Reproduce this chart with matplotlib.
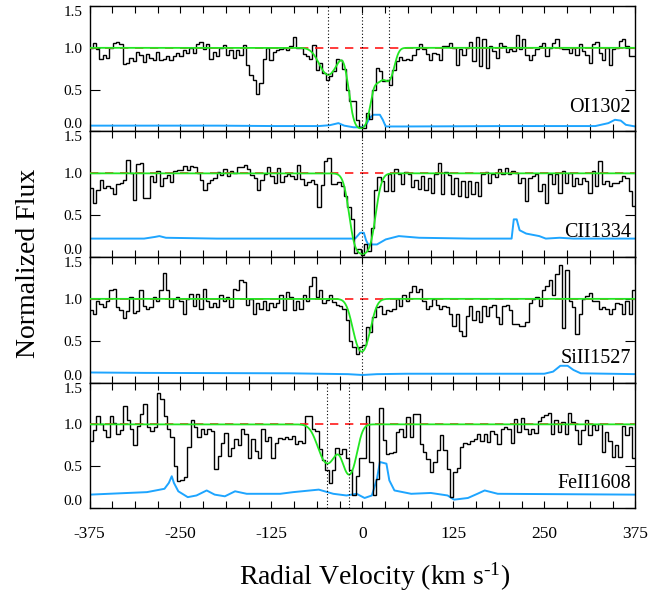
import numpy as np
import matplotlib
matplotlib.use("Agg")
import matplotlib.pyplot as plt
from matplotlib.ticker import MultipleLocator

plt.rcParams['font.family'] = ['Liberation Serif', 'DejaVu Serif']
plt.rcParams['mathtext.fontset'] = 'custom'
plt.rcParams['mathtext.rm'] = 'Liberation Serif'
plt.rcParams['mathtext.it'] = 'Liberation Serif:italic'

# ---------------- data ----------------
v_range = (-375, 375)
continuum = 1.0

labels = ['OI1302', 'CII1334', 'SiII1527', 'FeII1608']

flux_oi = [1.0, 1.06, 0.98, 0.87, 0.92, 0.88, 1.0, 1.06, 1.07, 1.04,
           0.81, 0.82, 0.88, 0.84, 0.95, 0.92, 0.83, 0.93, 0.88, 0.86,
           0.95, 0.86, 0.87, 0.90, 0.86, 0.90, 0.94, 0.90, 0.97, 0.94,
           1.0, 0.94, 1.04, 1.07, 0.98, 1.04, 0.87, 0.95, 0.90, 1.0,
           1.03, 0.92, 0.97, 0.88, 0.97, 0.92, 1.03, 0.79, 0.67, 0.62,
           0.45, 0.58, 0.87, 1.0, 0.86, 0.95, 0.97, 0.99, 1.0, 0.97,
           1.02, 1.13, 1.0, 1.0, 0.93, 0.90, 0.87, 1.03, 0.73, 0.82,
           0.70, 0.62, 0.66, 0.72, 0.87, 0.85, 0.75, 0.50, 0.37, 0.37,
           0.14, 0.05, 0.04,
           0.22, 0.15, 0.5, 0.76, 0.72, 0.6, 0.62, 0.55, 0.74, 0.84,
           0.89, 0.86, 0.87, 0.86, 0.91, 0.99, 1.05, 0.98, 0.93, 0.86,
           0.94, 0.93, 0.85, 1.02, 1.02, 1.06, 1.0, 0.8, 0.98, 0.92,
           1.0, 1.07, 0.84, 1.13, 0.78, 1.1, 0.76, 1.02, 0.96, 0.88,
           1.06, 1.02, 0.95, 0.98, 0.96, 1.15, 0.98, 1.1, 0.92, 0.86,
           0.92, 0.98, 1.02, 1.06, 0.9, 1.0, 1.06, 1.11, 1.0, 0.98,
           0.98, 0.94, 1.0, 0.92, 1.04, 0.96, 0.92, 0.82, 1.04, 1.07,
           0.94, 0.86, 1.0, 0.8, 0.98, 1.0, 1.08, 1.1, 1.02, 0.9,
           0.9]

flux_cii = [0.83, 0.65, 0.8, 0.92, 0.83, 0.85, 0.82, 0.75, 0.87, 0.88,
            0.92, 1.16, 1.0, 0.68, 1.11, 1.12, 0.71, 0.7, 0.97, 0.9,
            1.03, 0.85, 0.95, 0.98, 0.9, 1.03, 1.04, 1.04, 1.09, 1.04,
            1.09, 1.07, 1.0, 0.92, 0.8, 0.88, 0.92, 0.95, 1.02, 0.98,
            1.05, 0.97, 1.03, 1.0, 1.07, 1.07, 1.1, 1.05, 0.98, 0.95,
            0.8, 0.92, 0.99, 1.08, 0.97, 0.88, 1.06, 0.9, 0.97, 0.99,
            0.97, 0.93, 1.1, 0.93, 0.86, 0.9, 0.92, 0.87, 0.6, 0.86,
            1.15, 1.18, 0.87, 0.87, 0.9, 0.85, 0.73, 0.6, 0.45, 0.05,
            0.1, 0.02, 0.15,
            0.07, 0.35, 0.8, 0.96, 0.91, 0.79, 0.99, 0.79, 1.05, 0.99,
            0.87, 1.01, 0.99, 0.84, 0.92, 0.81, 0.97, 0.8, 0.95, 0.77,
            0.99, 1.12, 0.75, 1.02, 0.98, 0.75, 0.95, 0.73, 0.91, 0.72,
            0.91, 0.75, 0.9, 0.73, 0.99, 1.01, 0.89, 0.99, 0.96, 1.05,
            0.99, 1.06, 0.99, 1.03, 1.0, 0.89, 0.95, 0.67, 0.95, 0.97,
            0.99, 0.79, 0.87, 0.65, 0.99, 0.87, 0.99, 0.77, 1.03, 0.89,
            1.0, 0.85, 0.95, 0.87, 0.95, 0.91, 0.77, 1.03, 0.85, 1.15,
            0.87, 0.91, 0.85, 0.88, 0.89, 0.91, 0.97, 0.95, 0.79, 0.61]

flux_siii = [0.87, 0.82, 0.98, 0.94, 0.9, 0.98, 1.1, 1.12, 0.9, 0.87,
             0.77, 0.86, 1.02, 0.83, 0.85, 1.11, 0.92, 0.88, 0.9, 1.02,
             0.98, 1.1, 1.31, 1.1, 0.9, 1.0, 1.02, 0.97, 0.82, 1.0,
             1.06, 0.92, 1.06, 0.88, 1.12, 0.98, 0.9, 0.95, 0.9, 1.05,
             0.97, 1.02, 0.9, 1.12, 1.1, 1.23, 1.2, 0.93, 1.0, 0.82,
             0.95, 0.88, 0.98, 0.87, 0.95, 0.9, 0.95, 1.05, 0.87, 1.08,
             1.02, 0.87, 0.98, 0.88, 1.05, 0.98, 1.15, 1.26, 1.02, 1.1,
             0.95, 0.99, 1.04, 0.96, 0.93, 0.92, 0.88, 0.75, 0.5, 0.42,
             0.34, 0.42, 0.45,
             0.66, 0.6, 0.78, 0.9, 0.92, 0.82, 0.87, 0.86, 0.88, 1.0,
             0.92, 1.05, 0.97, 1.08, 1.15, 1.08, 1.12, 0.98, 0.88, 0.92,
             1.0, 0.93, 0.88, 0.92, 0.9, 0.82, 0.68, 0.82, 0.62, 0.55,
             0.8, 0.92, 0.75, 0.85, 0.72, 0.92, 0.8, 0.9, 0.93, 0.78,
             0.7, 0.92, 0.93, 0.87, 0.7, 0.7, 0.68, 0.68, 0.72, 0.95,
             1.0, 1.02, 0.92, 1.1, 1.15, 1.22, 1.05, 1.3, 1.4, 0.65,
             1.35, 0.98, 0.9, 0.58, 0.82, 1.0, 1.03, 1.07, 0.97, 0.97,
             0.88, 0.9, 0.88, 0.82, 0.88, 0.95, 0.94, 0.82, 0.97, 0.82,
             1.11]

flux_feii = [0.8, 0.93, 1.1, 1.0, 0.93, 0.85, 1.1, 1.02, 0.88, 0.93,
             1.22, 1.05, 0.95, 0.75, 0.98, 1.12, 1.24, 0.97, 0.92, 0.97,
             1.37, 1.3, 1.1, 0.94, 0.85, 0.5, 0.32, 0.33, 0.37, 0.73,
             1.05, 0.97, 0.85, 0.95, 0.88, 0.95, 0.92, 0.47, 0.62, 0.78,
             0.9, 0.62, 0.72, 0.82, 0.75, 0.95, 0.88, 0.6, 0.83, 0.68,
             0.6, 0.94, 0.8, 0.85, 0.6, 0.78, 0.84, 0.82, 0.85, 0.82,
             0.86, 0.77, 0.8, 0.78, 1.1, 1.1, 0.95, 0.92, 0.7, 0.57,
             0.45, 0.3, 0.45, 0.72, 0.65, 0.7, 0.6, 0.45, 0.15, 0.38,
             0.6, 0.6, 1.1,
             0.55, 0.15, 0.35, 1.2, 0.81, 0.64, 0.66, 0.67, 0.91, 0.95,
             0.85, 1.09, 0.85, 1.12, 1.12, 0.77, 0.67, 0.59, 0.43, 0.55,
             0.69, 0.87, 0.69, 0.47, 0.13, 0.43, 0.48, 0.73,
             0.78, 0.77, 0.8, 0.82, 0.89, 0.8, 0.89, 0.79, 0.92, 0.88,
             0.77, 0.95, 0.97, 0.95, 0.78, 1.06, 0.91, 1.07, 0.95, 0.89,
             0.95, 0.9, 1.04, 1.09, 1.11, 1.14, 0.89, 1.05, 0.91, 1.03,
             0.88, 1.13, 1.03, 0.93, 0.77, 0.93, 1.05, 0.87, 0.99, 0.93,
             1.01, 0.67, 0.91, 0.8, 0.61, 0.75, 0.61, 0.98, 0.87, 0.97,
             0.6]

# error spectra (velocity, value)
err_v_oi = [-375, -200, -120, -60, -45, -33, -25, -12, 0, 5, 10, 15, 24, 28, 32,
            60, 200, 320, 338, 347, 355, 362, 375]
err_oi = [0.07, 0.07, 0.065, 0.065, 0.075, 0.1, 0.07, 0.05, 0.05, 0.08, 0.16, 0.2,
          0.2, 0.14, 0.06, 0.06, 0.065, 0.065, 0.1, 0.14, 0.13, 0.08, 0.06]

err_v_cii = [-375, -300, -285, -279, -270, -200, -100, -10, -3, 2, 5, 8, 20, 32,
             50, 78, 150, 205, 208, 212, 216, 225, 243, 252, 271, 290, 375]
err_cii = [0.22, 0.22, 0.24, 0.25, 0.23, 0.22, 0.22, 0.22, 0.29, 0.29, 0.2, 0.15,
           0.15, 0.21, 0.25, 0.23, 0.22, 0.22, 0.45, 0.45, 0.32, 0.28, 0.25, 0.22,
           0.23, 0.22, 0.22]

err_v_siii = [-375, -300, -100, -20, 0, 20, 60, 250, 262, 272, 282, 290, 300, 375]
err_siii = [0.12, 0.115, 0.11, 0.1, 0.09, 0.1, 0.105, 0.105, 0.13, 0.2, 0.2, 0.15,
            0.11, 0.1]

err_v_feii = [-375, -296, -272, -266, -262, -259, -253, -240, -228, -214, -203,
              -189, -175, -159, -113, -95, -60, -40, -22, -8, 3, 13, 20, 24, 33,
              37, 44, 67, 94, 117, 126, 145, 158, 168, 186, 375]
err_feii = [0.16, 0.19, 0.23, 0.3, 0.38, 0.3, 0.2, 0.13, 0.15, 0.21, 0.16, 0.14,
            0.2, 0.17, 0.17, 0.19, 0.22, 0.17, 0.15, 0.17, 0.12, 0.15, 0.35, 0.55,
            0.53, 0.33, 0.21, 0.17, 0.18, 0.15, 0.1, 0.12, 0.17, 0.21, 0.17, 0.16]

# fitted absorption components: velocity, optical depth, b-value
comp_v_oi = [-47, -14, -2, 22, 37]
comp_tau_oi = [0.39, 0.3, 3.2, 0.45, 0.45]
comp_b_oi = [16, 10, 12, 10, 9]

comp_v_cii = [0]
comp_tau_cii = [3.3]
comp_b_cii = [14.5]

comp_v_siii = [-1]
comp_tau_siii = [1.0]
comp_b_siii = [13.5]

comp_v_feii = [-48, -18]
comp_tau_feii = [0.63, 0.9]
comp_b_feii = [16, 12]

# marked component velocities (dotted lines)
marks_oi = [-47, 0, 36]
marks_cii = [0]
marks_siii = [0]
marks_feii = [-48, -18]

xtick_vals = [-375, -250, -125, 0, 125, 250, 375]
ytick_vals = [0.0, 0.5, 1.0, 1.5]

panels = [
    (labels[0], flux_oi, err_v_oi, err_oi, comp_v_oi, comp_tau_oi, comp_b_oi, marks_oi),
    (labels[1], flux_cii, err_v_cii, err_cii, comp_v_cii, comp_tau_cii, comp_b_cii, marks_cii),
    (labels[2], flux_siii, err_v_siii, err_siii, comp_v_siii, comp_tau_siii, comp_b_siii, marks_siii),
    (labels[3], flux_feii, err_v_feii, err_feii, comp_v_feii, comp_tau_feii, comp_b_feii, marks_feii),
]

# ---------------- plot ----------------
GREEN = '#22e622'
BLUE = '#1ea5ff'
RED = '#ff1a1a'

fig, axes = plt.subplots(4, 1, figsize=(6.67, 5.93), dpi=100, sharex=True)
fig.subplots_adjust(left=0.1342, right=0.9525, top=0.9899, bottom=0.1433, hspace=0)

v_model = np.linspace(v_range[0], v_range[1], 3001)

for i, (ax, (lab, flux, ev, ef, cv, ct, cb, marks)) in enumerate(zip(axes, panels)):
    flux = np.asarray(flux)
    edges = np.linspace(v_range[0], v_range[1], len(flux) + 1)
    ax.stairs(flux, edges, color='black', lw=1.0, baseline=None, zorder=3)
    ax.plot(ev, ef, color=BLUE, lw=1.4, zorder=2)
    ax.axhline(continuum, color=RED, ls=(0, (5, 4)), lw=1.2, zorder=4)
    tau = np.zeros_like(v_model)
    for c, t, b in zip(cv, ct, cb):
        tau += t * np.exp(-((v_model - c) / b) ** 2)
    ax.plot(v_model, continuum * np.exp(-tau), color=GREEN, lw=1.3, zorder=5)
    for m in marks:
        ax.axvline(m, color='black', ls=(0, (1, 2)), lw=0.8, zorder=6)
    ax.text(369, 0.29, lab, ha='right', va='center', fontsize=14.5, zorder=7)

    ax.set_xlim(*v_range)
    ax.set_ylim(0, 1.5)
    ax.set_xticks(xtick_vals)
    ax.xaxis.set_minor_locator(MultipleLocator(31.25))
    ax.set_yticks(ytick_vals)
    ax.set_yticklabels([f'{y:.1f}' for y in ytick_vals], fontsize=11)
    ax.tick_params(axis='x', which='both', direction='in', top=True, bottom=True,
                   length=5, width=0.8)
    ax.tick_params(axis='y', which='both', direction='in', left=True, right=True,
                   length=7, width=0.8, pad=5)
    ylabs = ax.get_yticklabels()
    ylabs[0].set_verticalalignment('bottom')
    ylabs[-1].set_verticalalignment('top')
    for s in ax.spines.values():
        s.set_linewidth(1.0)
    if i < 3:
        ax.tick_params(axis='x', labelbottom=False)

axes[-1].set_xticklabels([str(x) for x in xtick_vals], fontsize=12.5)
axes[-1].tick_params(axis='x', pad=13)

fig.text(0.042, 0.556, 'Normalized Flux', rotation=90, ha='center', va='center',
         fontsize=20)
fig.text(0.562, 0.027, r'Radial Velocity (km s$^{\text{-1}}$)', ha='center',
         va='center', fontsize=20)

fig.savefig('out.png', dpi=100)
